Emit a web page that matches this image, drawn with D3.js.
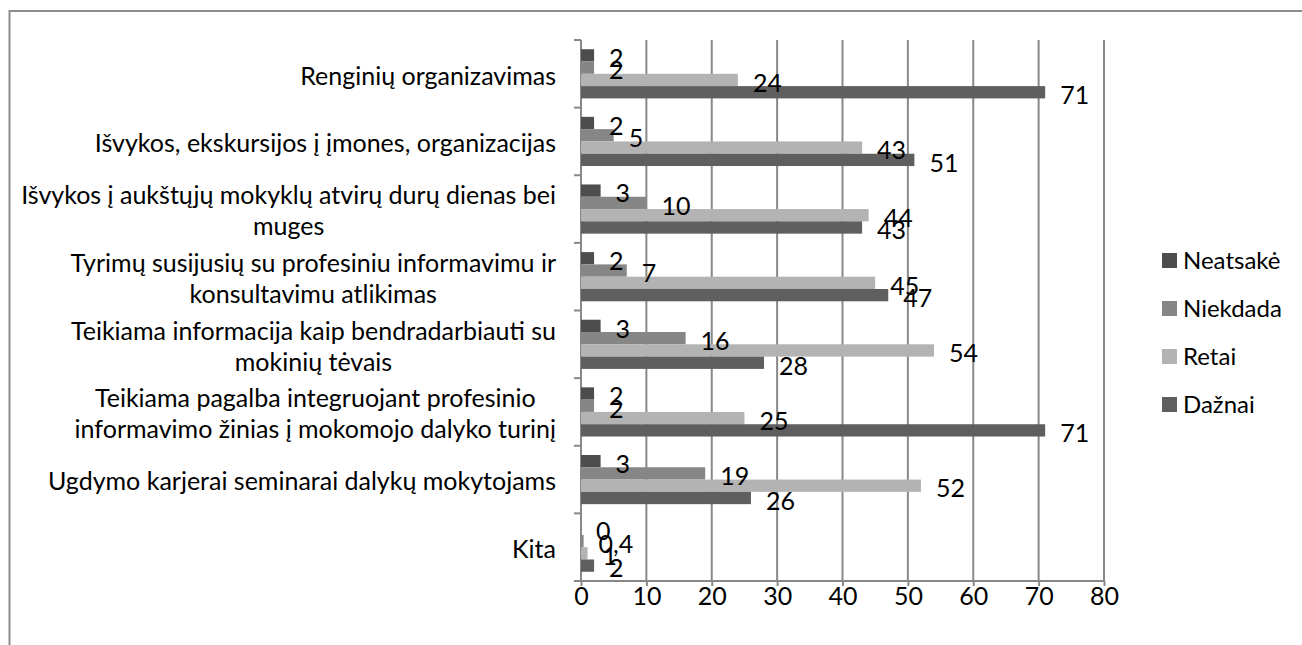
<!DOCTYPE html>
<html>
<head>
<meta charset="utf-8">
<script src="https://cdn.jsdelivr.net/npm/d3@7"></script>
<style>
  body { margin: 0; background: #fff; }
  text { font-family: Lato, 'Open Sans', sans-serif; fill: #000; }
</style>
</head>
<body>
<div id="chart"></div>
<script>
// categories, top to bottom
var categories = [
	["Renginių organizavimas"],
	["Išvykos, ekskursijos į įmones, organizacijas"],
	["Išvykos į aukštųjų mokyklų atvirų durų dienas bei", "muges"],
	["Tyrimų susijusių su profesiniu informavimu ir", "konsultavimu atlikimas"],
	["Teikiama informacija kaip bendradarbiauti su", "mokinių tėvais"],
	["Teikiama pagalba integruojant profesinio", "informavimo žinias į mokomojo dalyko turinį"],
	["Ugdymo karjerai seminarai dalykų mokytojams"],
	["Kita"]
];
var seriesNames = ["Neatsakė", "Niekdada", "Retai", "Dažnai"];
var neatsake = [2, 2, 3, 2, 3, 2, 3, 0];
var niekdada = [2, 5, 10, 7, 16, 2, 19, 0.4];
var retai    = [24, 43, 44, 45, 54, 25, 52, 1];
var daznai   = [71, 51, 43, 47, 28, 71, 26, 2];
var xTicks = [0, 10, 20, 30, 40, 50, 60, 70, 80];

var seriesValues = [neatsake, niekdada, retai, daznai];
var seriesColors = ["#4d4d4d", "#868686", "#b3b3b3", "#5f5f5f"];

var width = 1302, height = 645;
var plot = {left: 581, right: 1104, top: 40, bottom: 581};
var gridColor = '#888888';
var fontSize = 25;

var svg = d3.select('#chart').append('svg')
	.attr('width', width)
	.attr('height', height);

svg.append('rect')
	.attr('width', width).attr('height', height)
	.attr('fill', '#fff');

// outer frame (runs off the page at right and bottom)
svg.append('rect')
	.attr('x', 9.5).attr('y', 11)
	.attr('width', 1400).attr('height', 800)
	.attr('fill', 'none')
	.attr('stroke', '#8c8c8c')
	.attr('stroke-width', 2);

var x = d3.scaleLinear()
	.domain([0, 80])
	.range([plot.left, plot.right]);

var y = d3.scaleBand()
	.domain(d3.range(categories.length))
	.range([plot.top, plot.bottom]);

var ySub = d3.scaleBand()
	.domain(d3.range(seriesNames.length))
	.range([0, y.bandwidth()])
	.paddingInner(0)
	.paddingOuter(0.75);

// gridlines
svg.append('g').selectAll('line')
	.data(xTicks.slice(1))
	.enter().append('line')
	.attr('x1', d => x(d)).attr('x2', d => x(d))
	.attr('y1', plot.top).attr('y2', plot.bottom)
	.attr('stroke', gridColor)
	.attr('stroke-width', 2);

// x axis
var xAxis = svg.append('g')
	.attr('transform', 'translate(0,' + plot.bottom + ')')
	.call(d3.axisBottom(x).tickValues(xTicks).tickSize(5).tickPadding(1).tickFormat(d3.format('d')));
xAxis.select('.domain').attr('stroke', gridColor).attr('stroke-width', 2)
	.attr('d', 'M' + (plot.left - 7) + ',0H' + plot.right);
xAxis.selectAll('.tick line').attr('stroke', gridColor).attr('stroke-width', 2);
xAxis.selectAll('.tick text')
	.style('font-family', 'Lato, sans-serif')
	.style('font-size', fontSize + 'px')
	.attr('fill', '#000');

// y axis line and ticks at group boundaries
svg.append('line')
	.attr('x1', plot.left).attr('x2', plot.left)
	.attr('y1', plot.top).attr('y2', plot.bottom)
	.attr('stroke', gridColor).attr('stroke-width', 2);
svg.append('g').selectAll('line')
	.data(d3.range(categories.length))
	.enter().append('line')
	.attr('x1', plot.left - 7).attr('x2', plot.left)
	.attr('y1', d => y(d)).attr('y2', d => y(d))
	.attr('stroke', gridColor).attr('stroke-width', 2);

// category labels
var lineH = 31;
var catLabels = svg.append('g').selectAll('text')
	.data(categories)
	.enter().append('text')
	.attr('text-anchor', 'middle')
	.style('font-size', fontSize + 'px')
	.each(function(lines, i) {
		var t = d3.select(this);
		var cy = y(i) + y.bandwidth() / 2 + 2 - (lines.length - 1) * lineH / 2;
		lines.forEach(function(l, j) {
			t.append('tspan')
				.attr('x', 0)
				.attr('y', cy + j * lineH)
				.attr('dy', '0.35em')
				.text(l);
		});
	});
// right-align each wrapped block, centering its lines
catLabels.each(function() {
	var bb = this.getBBox();
	d3.select(this).attr('transform', 'translate(' + (plot.left - 25 - bb.width / 2) + ',0)');
});

// bars
var groups = svg.append('g').selectAll('g')
	.data(categories)
	.enter().append('g')
	.attr('transform', (d, i) => 'translate(0,' + y(i) + ')');

groups.selectAll('rect')
	.data((d, i) => seriesValues.map((s, k) => ({k: k, value: s[i]})))
	.enter().append('rect')
	.attr('x', x(0))
	.attr('y', d => ySub(d.k))
	.attr('width', d => x(d.value) - x(0))
	.attr('height', ySub.bandwidth())
	.attr('fill', d => seriesColors[d.k]);

var fmt = v => String(v).replace('.', ',');
groups.selectAll('text')
	.data((d, i) => seriesValues.map((s, k) => ({k: k, value: s[i]})))
	.enter().append('text')
	.attr('x', d => x(d.value) + 15)
	.attr('y', d => ySub(d.k) + ySub.bandwidth() / 2 + 3)
	.attr('dy', '0.35em')
	.style('font-size', fontSize + 'px')
	.text(d => fmt(d.value));

// legend
var legend = svg.append('g').selectAll('g')
	.data(seriesNames)
	.enter().append('g')
	.attr('transform', (d, i) => 'translate(1162,' + (260.5 + i * 48) + ')');
legend.append('rect')
	.attr('x', 0).attr('y', -7.5)
	.attr('width', 15).attr('height', 15)
	.attr('fill', (d, i) => seriesColors[i]);
legend.append('text')
	.attr('x', 21).attr('y', 0)
	.attr('dy', '0.35em')
	.style('font-size', '24px')
	.text(d => d);
</script>
</body>
</html>
